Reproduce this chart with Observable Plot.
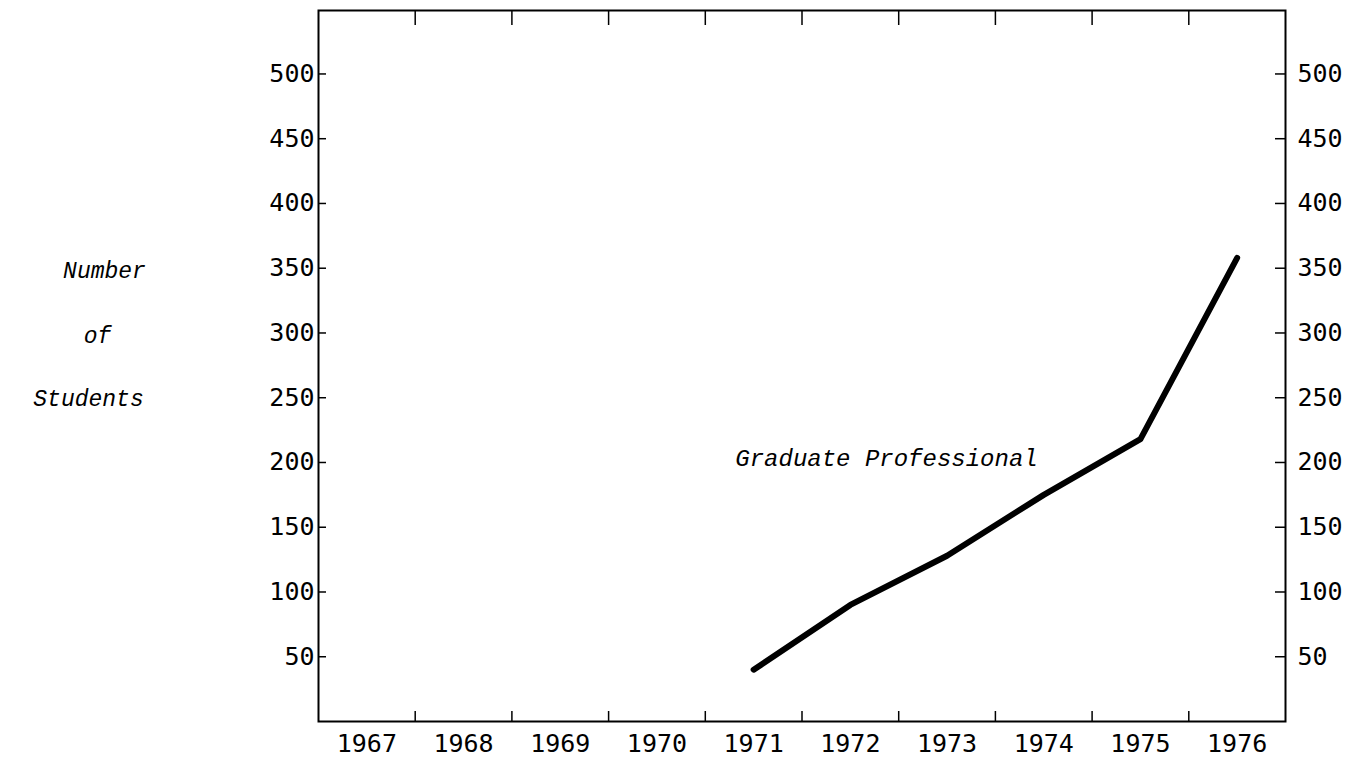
<!DOCTYPE html>
<html>
<head>
<meta charset="utf-8">
<script src="https://cdn.jsdelivr.net/npm/d3@7"></script>
<script src="https://cdn.jsdelivr.net/npm/@observablehq/plot@0.6"></script>
<style>
  html, body { margin: 0; padding: 0; background: #fff; }
</style>
</head>
<body>
<div id="chart"></div>
<script>
// Category axis: years
const years = [1967, 1968, 1969, 1970, 1971, 1972, 1973, 1974, 1975, 1976];
// Series: Graduate Professional
const seriesYears = [1971, 1972, 1973, 1974, 1975, 1976];
const seriesValues = [40, 90, 128, 175, 218, 358];
const seriesName = "Graduate Professional";
// Y tick labels
const yTicks = [50, 100, 150, 200, 250, 300, 350, 400, 450, 500];
// Y-axis title lines
const yTitleLines = ["Number", "of", "Students"];
const yTitleValues = [348, 298, 249];
// Series label anchor (data units)
const labelAnchor = { x: 1970.81, y: 197 };

const series = seriesYears.map((year, i) => ({ year, students: seriesValues[i] }));
const bounds = years.slice(0, -1).map(y => y + 0.5);

const W = 1361, H = 763;
const mL = 318, mR = 76, mT = 10, mB = 42;
const frameW = W - mL - mR, frameH = H - mT - mB;

const titleStyle = {
  frameAnchor: "left", textAnchor: "middle",
  fontFamily: "'Liberation Mono', monospace", fontStyle: "italic", fontSize: 23, fill: "black"
};
const titleDx = [-214, -221, -230];
const titleMarks = yTitleLines.map((t, i) =>
  Plot.text([{ text: t, y: yTitleValues[i] }], { y: "y", text: "text", dx: titleDx[i], ...titleStyle })
);

const chart = Plot.plot({
  width: W,
  height: H,
  marginLeft: mL,
  marginRight: mR,
  marginTop: mT,
  marginBottom: mB,
  x: { domain: [years[0] - 0.5, years[years.length - 1] + 0.5] },
  y: { domain: [0, 549] },
  style: { fontFamily: "'DejaVu Sans Mono', monospace", fontSize: "25px", color: "black", background: "white" },
  marks: [
    Plot.frame({ stroke: "black", strokeWidth: 2 }),
    // bottom inward ticks
    Plot.ruleX(bounds, { x: d => d, insetTop: frameH - 10, stroke: "black", strokeWidth: 1.5 }),
    // top inward ticks
    Plot.ruleX(bounds, { x: d => d, insetBottom: frameH - 15, stroke: "black", strokeWidth: 1.5 }),
    // left inward ticks
    Plot.ruleY(yTicks, { y: d => d, insetRight: frameW - 8, stroke: "black", strokeWidth: 1.5 }),
    // right inward ticks
    Plot.ruleY(yTicks, { y: d => d, insetLeft: frameW - 10, stroke: "black", strokeWidth: 1.5 }),
    Plot.axisX({ ticks: years, tickSize: 0, tickPadding: 13, tickFormat: d => String(d), label: null, fontSize: 25 }),
    Plot.axisY({ anchor: "left", ticks: yTicks, tickSize: 0, tickPadding: 4, label: null, fontSize: 25 }),
    Plot.axisY({ anchor: "right", ticks: yTicks, tickSize: 0, tickPadding: 12, label: null, fontSize: 25 }),
    Plot.line(series, { x: "year", y: "students", stroke: "black", strokeWidth: 6, strokeLinecap: "round", strokeLinejoin: "round" }),
    Plot.text([labelAnchor], {
      x: "x", y: "y", text: () => seriesName, textAnchor: "start", lineAnchor: "bottom",
      fontFamily: "'Liberation Mono', monospace", fontStyle: "italic", fontSize: 24, fill: "black"
    }),
    ...titleMarks
  ]
});
document.getElementById("chart").appendChild(chart);
</script>
</body>
</html>
